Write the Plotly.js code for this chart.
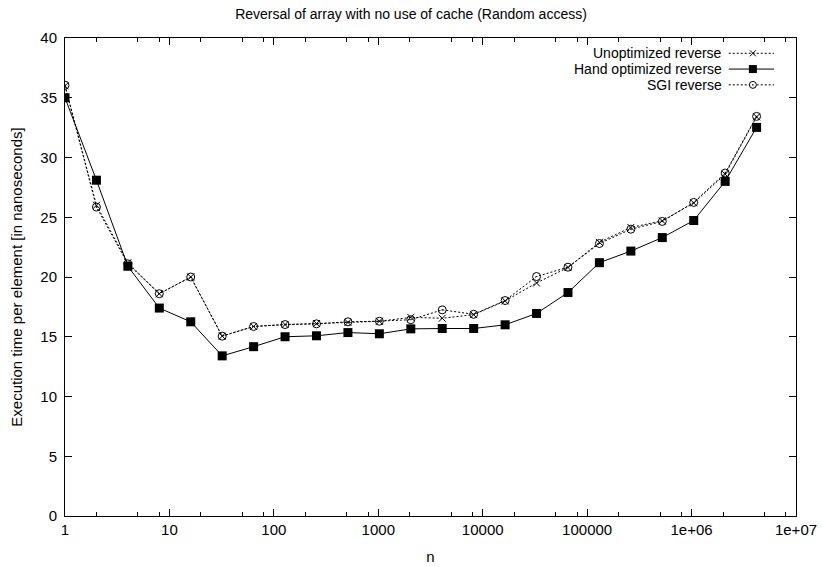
<!DOCTYPE html>
<html>
<head>
<meta charset="utf-8">
<script src="https://cdn.plot.ly/plotly-3.0.1.min.js"></script>
<style>html,body{margin:0;padding:0;background:#fff;}#chart{width:822px;height:567px;}</style>
</head>
<body>
<div id="chart"></div>
<script>
// ---- data ----
var n = [1, 2, 4, 8, 16, 32, 64, 128, 256, 512, 1024, 2048, 4096, 8192, 16384, 32768, 65536, 131072, 262144, 524288, 1048576, 2097152, 4194304];
var unoptimized = [36.0, 26.0, 21.2, 18.6, 20.0, 15.05, 15.86, 16.02, 16.1, 16.2, 16.3, 16.62, 16.55, 16.85, 18.0, 19.5, 20.8, 22.9, 24.15, 24.7, 26.2, 28.6, 33.4];
var handOptimized = [35.0, 28.1, 20.9, 17.4, 16.25, 13.4, 14.17, 15.0, 15.08, 15.35, 15.25, 15.66, 15.69, 15.69, 16.0, 16.95, 18.7, 21.2, 22.17, 23.3, 24.73, 28.0, 32.52];
var sgi = [36.05, 25.85, 21.1, 18.6, 20.0, 15.05, 15.86, 16.02, 16.08, 16.25, 16.3, 16.43, 17.25, 16.88, 18.03, 20.04, 20.82, 22.8, 24.0, 24.65, 26.24, 28.7, 33.44];
var seriesNames = ["Unoptimized reverse", "Hand optimized reverse", "SGI reverse"];
var xTickVals = [1, 10, 100, 1000, 10000, 100000, 1000000, 10000000];
var xTickText = ["1", "10", "100", "1000", "10000", "100000", "1e+06", "1e+07"];
var xMinorTickVals = [2, 5, 8, 20, 50, 80, 200, 500, 800, 2000, 5000, 8000, 20000, 50000, 80000, 200000, 500000, 800000, 2000000, 5000000, 8000000];
var yTickVals = [0, 5, 10, 15, 20, 25, 30, 35, 40];

// ---- chart ----
var FONT = "Liberation Sans, Arial, Helvetica, sans-serif";
var FS = 15;
var traces = [
  {x: n, y: unoptimized, name: seriesNames[0], mode: "lines+markers",
   line: {color: "#000", width: 1, dash: "2px,2px"},
   marker: {symbol: "x-thin-open", size: 7, color: "#000", line: {color: "#000", width: 1}}},
  {x: n, y: handOptimized, name: seriesNames[1], mode: "lines+markers",
   line: {color: "#000", width: 1},
   marker: {symbol: "square", size: 9, color: "#000"}},
  {x: n, y: sgi, name: seriesNames[2], mode: "lines+markers",
   line: {color: "#000", width: 1, dash: "2px,2px"},
   marker: {symbol: "circle-open-dot", size: 8, color: "#000", line: {color: "#000", width: 1}}}
];

// custom legend (text right-aligned, key on the right, as in the gnuplot original)
var rowsY = [0.968, 0.935, 0.902];
var annotations = [];
var shapes = [];
var lineX0 = 0.908, lineX1 = 0.97, markX = 0.941;
for (var i = 0; i < 3; i++) {
  annotations.push({xref: "paper", yref: "paper", x: 0.9, y: rowsY[i], xanchor: "right", yanchor: "middle",
    text: seriesNames[i], showarrow: false, borderpad: 0, font: {family: FONT, size: 14, color: "#000"}});
  shapes.push({type: "line", xref: "paper", yref: "paper", x0: lineX0, x1: lineX1, y0: rowsY[i], y1: rowsY[i],
    line: {color: "#000", width: 1, dash: i === 1 ? "solid" : "2px,2px"}});
}
// legend markers
shapes.push({type: "line", xref: "paper", yref: "paper", xsizemode: "pixel", ysizemode: "pixel",
  xanchor: markX, yanchor: rowsY[0], x0: -3, x1: 3, y0: -3, y1: 3, line: {color: "#000", width: 1}});
shapes.push({type: "line", xref: "paper", yref: "paper", xsizemode: "pixel", ysizemode: "pixel",
  xanchor: markX, yanchor: rowsY[0], x0: -3, x1: 3, y0: 3, y1: -3, line: {color: "#000", width: 1}});
shapes.push({type: "rect", xref: "paper", yref: "paper", xsizemode: "pixel", ysizemode: "pixel",
  xanchor: markX, yanchor: rowsY[1], x0: -4, x1: 4, y0: -4, y1: 4, fillcolor: "#000", line: {color: "#000", width: 0}});
shapes.push({type: "circle", xref: "paper", yref: "paper", xsizemode: "pixel", ysizemode: "pixel",
  xanchor: markX, yanchor: rowsY[2], x0: -3.5, x1: 3.5, y0: -3.5, y1: 3.5, fillcolor: "#fff", line: {color: "#000", width: 1}});
shapes.push({type: "circle", xref: "paper", yref: "paper", xsizemode: "pixel", ysizemode: "pixel",
  xanchor: markX, yanchor: rowsY[2], x0: -0.8, x1: 0.8, y0: -0.8, y1: 0.8, fillcolor: "#000", line: {color: "#000", width: 0}});

var layout = {
  width: 822, height: 567,
  margin: {l: 65, r: 26, t: 38, b: 51},
  paper_bgcolor: "#fff", plot_bgcolor: "#fff",
  font: {family: FONT, size: FS, color: "#000"},
  showlegend: false,
  title: {text: "Reversal of array with no use of cache (Random access)", x: 0.5, xanchor: "center",
          y: 0.975, yanchor: "middle", font: {family: FONT, size: 14, color: "#000"}},
  xaxis: {type: "log", range: [0, 7], tickmode: "array", tickvals: xTickVals, ticktext: xTickText,
          ticks: "inside", ticklen: 7, tickwidth: 1, tickcolor: "#000",
          minor: {tickmode: "array", tickvals: xMinorTickVals,
                  ticks: "inside", ticklen: 4, tickcolor: "#000", tickwidth: 1, showgrid: false},
          showgrid: false, zeroline: false, showline: true, linecolor: "#000", linewidth: 1, mirror: "ticks",
          tickfont: {family: FONT, size: FS, color: "#000"},
          title: {text: "n", standoff: 14, font: {family: FONT, size: FS, color: "#000"}}},
  yaxis: {range: [0, 40], tickmode: "array", tickvals: yTickVals,
          ticks: "inside", ticklen: 7, tickwidth: 1, tickcolor: "#000",
          showgrid: false, zeroline: false, showline: true, linecolor: "#000", linewidth: 1, mirror: "ticks",
          tickfont: {family: FONT, size: FS, color: "#000"}, ticklabelstandoff: 4,
          title: {text: "Execution time per element [in nanoseconds]", standoff: 14, font: {family: FONT, size: FS, color: "#000"}}},
  annotations: annotations,
  shapes: shapes
};

Plotly.newPlot("chart", traces, layout, {displayModeBar: false, staticPlot: true});
</script>
</body>
</html>
